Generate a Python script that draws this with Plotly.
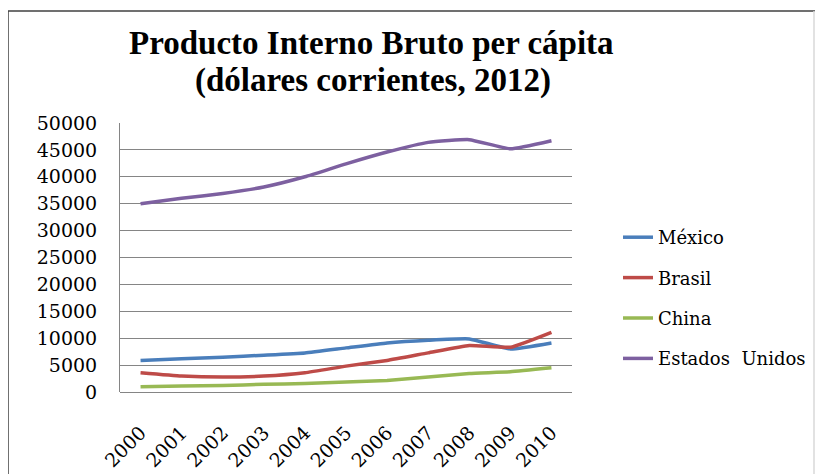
import plotly.graph_objects as go

years = ["2000", "2001", "2002", "2003", "2004", "2005", "2006", "2007", "2008", "2009", "2010"]
mexico = [5860, 6200, 6470, 6840, 7270, 8200, 9120, 9620, 9860, 8010, 9120]
brasil = [3580, 2960, 2770, 2960, 3580, 4810, 5860, 7270, 8630, 8320, 11100]
china = [990, 1110, 1230, 1420, 1600, 1850, 2160, 2770, 3450, 3760, 4500]
usa = [35000, 36000, 36900, 38100, 40000, 42400, 44600, 46400, 46900, 45200, 46700]

title_lines = ["Producto Interno Bruto per cápita", "(dólares corrientes, 2012)"]

series = [
    ("México", mexico, "#4A7EBB"),
    ("Brasil", brasil, "#BE4B48"),
    ("China", china, "#98B954"),
    ("Estados  Unidos", usa, "#7D60A0"),
]

FONT = "DejaVu Serif"
TFONT = "Liberation Serif"

fig = go.Figure()
for i, (name, vals, color) in enumerate(series):
    fig.add_trace(go.Scatter(
        x=years, y=vals, name=name, mode="lines",
        line=dict(color=color, width=3.5, shape="spline", smoothing=0.4),
        legendgroup=f"g{i}",
    ))

# page body has an 8px margin, so the figure is 8px smaller and coords shifted
OFF = 8
W, H = 823 - OFF, 474 - OFF
L, R, T, B = 120 - OFF, 572 - OFF, 123 - OFF, 392 - OFF
pw, ph = R - L, B - T

def px2x(px):
    return (px - OFF - L) / pw

def py2y(py):
    return (B - (py - OFF)) / ph

fig.update_layout(
    width=W, height=H,
    margin=dict(l=L, r=W - R, t=T, b=H - B, autoexpand=False),
    paper_bgcolor="white", plot_bgcolor="white",
    font=dict(family=FONT, color="#000000", size=18),
    xaxis=dict(
        type="category", showgrid=False, ticks="", tickangle=-45,
        tickfont=dict(family=FONT, size=19),
        showline=False, range=[-0.5, 10.5], zeroline=False,
        ticklabelstandoff=25, automargin=False,
    ),
    yaxis=dict(
        range=[0, 50000], dtick=5000, showgrid=True, gridcolor="#858585",
        gridwidth=1, showline=True, linecolor="#858585", linewidth=1,
        tickfont=dict(family=FONT, size=19), ticks="", zeroline=True,
        zerolinecolor="#858585", zerolinewidth=1, ticklabelstandoff=18,
        tickformat="d", automargin=False,
    ),
    legend=dict(
        x=px2x(618), xanchor="left", y=py2y(219), yanchor="top",
        traceorder="grouped", tracegroupgap=14,
        font=dict(family=FONT, size=18), bgcolor="rgba(0,0,0,0)",
        itemwidth=30,
    ),
    showlegend=True,
)

for txt, cx, cy in [(title_lines[0], 371, 43), (title_lines[1], 373, 80)]:
    fig.add_annotation(
        text=f"<b>{txt}</b>", xref="paper", yref="paper",
        x=px2x(cx), y=py2y(cy), xanchor="center", yanchor="middle",
        showarrow=False, font=dict(family=TFONT, size=33, color="#000000"),
    )

# chart-area frame: dark top and left edges, faint right edge
fig.add_shape(type="line", xref="paper", yref="paper",
              x0=px2x(8), x1=px2x(823), y0=py2y(11), y1=py2y(11),
              line=dict(color="#404040", width=1.5), layer="below")
fig.add_shape(type="line", xref="paper", yref="paper",
              x0=px2x(8), x1=px2x(8), y0=py2y(11), y1=py2y(480),
              line=dict(color="#404040", width=1.5), layer="below")
fig.add_shape(type="line", xref="paper", yref="paper",
              x0=px2x(814), x1=px2x(814), y0=py2y(11), y1=py2y(480),
              line=dict(color="#d8d8d8", width=1.5), layer="below")

fig.write_html("out.html")
